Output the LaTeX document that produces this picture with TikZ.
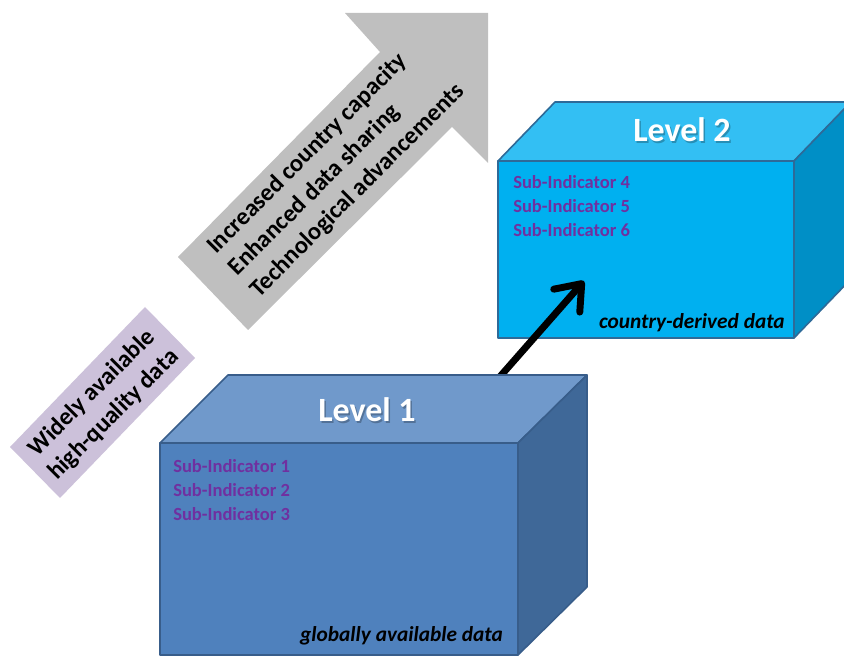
\documentclass[tikz,border=0pt]{standalone}
\usepackage{fontspec}
\setmainfont{Carlito}
\usetikzlibrary{arrows.meta}
\definecolor{lonefront}{HTML}{4F81BD}
\definecolor{lonetop}{HTML}{7099CB}
\definecolor{loneside}{HTML}{3F6898}
\definecolor{loneedge}{HTML}{385D8A}
\definecolor{ltwofront}{HTML}{00B0F0}
\definecolor{ltwotop}{HTML}{33BFF3}
\definecolor{ltwoside}{HTML}{008FC6}
\definecolor{ltwoedge}{HTML}{2E6A98}
\definecolor{grayarrow}{HTML}{BFBFBF}
\definecolor{lavender}{HTML}{CCC1DA}
\definecolor{subpurple}{HTML}{7030A0}
\tikzset{
  face1/.style={draw=loneedge, line width=1.2pt, line join=round},
  face2/.style={draw=ltwoedge, line width=1.2pt, line join=round},
  leveltext/.style={font=\fontsize{25.5}{30}\selectfont\bfseries, text=white, inner sep=0pt},
  levelshadow/.style={font=\fontsize{25.5}{30}\selectfont\bfseries, text=black, opacity=0.25, inner sep=0pt},
  subtext/.style={font=\fontsize{13.9}{17}\selectfont\bfseries, text=subpurple, anchor=base west, inner sep=0pt},
  srctext/.style={font=\fontsize{16}{18}\selectfont\bfseries\itshape, text=black, anchor=base east, inner sep=0pt},
  bigtext/.style={font=\fontsize{18.4}{23}\selectfont\bfseries, text=black, inner sep=0pt, rotate=45},
}
\begin{document}
\begin{tikzpicture}[x=0.75pt,y=-0.75pt]
\useasboundingbox (0,0) rectangle (844,656);
\clip (0,0) rectangle (844,656);
% gray arrow
\fill[grayarrow] (488,13) -- (345,13) -- (380,52) -- (178,257) -- (248,330) -- (452,127) -- (488,163) -- cycle;
\node[bigtext, align=left] (drivers) at (336,169) {Increased country capacity\\Enhanced data sharing\\Technological advancements};
% lavender box
\fill[lavender] (145,307) -- (195,358) -- (60,498) -- (10,447) -- cycle;
\node[bigtext, align=center] (widely) at (103,404) {Widely available\\high-quality data};
% Level 2 box
\path[face2, fill=ltwotop] (498,161) -- (555,102) -- (851,102) -- (794,161) -- cycle;
\path[face2, fill=ltwoside] (794,161) -- (851,102) -- (851,279) -- (794,338) -- cycle;
\path[face2, fill=ltwofront] (498,161) rectangle (794,338);
\node[levelshadow] at (683.5,131.5) {Level 2};
\node[leveltext] (l2) at (682,130) {Level 2};
\node[subtext] (s4) at (513,189) {Sub-Indicator 4};
\node[subtext] (s5) at (513,213) {Sub-Indicator 5};
\node[subtext] (s6) at (513,237) {Sub-Indicator 6};
\node[srctext] (c2) at (785,329) {country-derived data};
% black arrow
\coordinate (tail) at (497,380);
\coordinate (head) at (584,281);
\draw[line width=5.2pt, line cap=round, -{Straight Barb[length=17pt,width=26pt,round]}] (tail) -- (head);
% Level 1 box
\path[face1, fill=lonetop] (160,443) -- (228,375) -- (587,375) -- (518,443) -- cycle;
\path[face1, fill=loneside] (518,443) -- (587,375) -- (587,587) -- (518,655) -- cycle;
\path[face1, fill=lonefront] (160,443) rectangle (518,655);
\node[levelshadow] at (368.5,411.5) {Level 1};
\node[leveltext] (l1) at (367,410) {Level 1};
\node[subtext] (s1) at (173,473) {Sub-Indicator 1};
\node[subtext] (s2) at (173,497) {Sub-Indicator 2};
\node[subtext] (s3) at (173,521) {Sub-Indicator 3};
\node[srctext] (c1) at (503,641) {globally available data};
\end{tikzpicture}
\end{document}
